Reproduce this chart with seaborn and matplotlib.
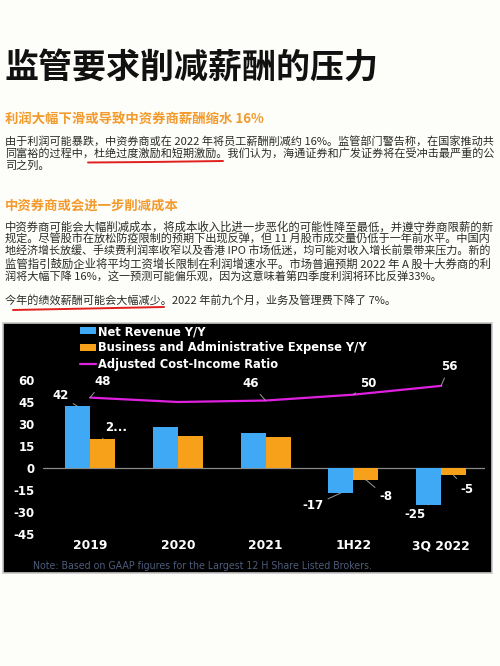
import numpy as np
import pandas as pd
import matplotlib
matplotlib.use('Agg')
import matplotlib.pyplot as plt
import seaborn as sns
from matplotlib.patches import Patch, Rectangle
from matplotlib.lines import Line2D

# ---------------- data ----------------
periods = ['2019', '2020', '2021', '1H22', '3Q 2022']
net_revenue = [42, 28, 24, -17, -25]
biz_admin_expense = [20, 22, 21, -8, -5]
cost_income_ratio = [48, 45, 46, 50, 56]
series_names = ['Net Revenue Y/Y', 'Business and Administrative Expense Y/Y',
                'Adjusted Cost-Income Ratio']
yticks = [-45, -30, -15, 0, 15, 30, 45, 60]
rev_labels = ['42', '', '', '-17', '-25']
exp_labels = ['2...', '', '', '-8', '-5']
ratio_labels = ['48', '', '46', '50', '56']

title = '监管要求削减薪酬的压力'
sub1 = '利润大幅下滑或导致中资券商薪酬缩水 16%'
p1 = ['由于利润可能暴跌，中资券商或在 2022 年将员工薪酬削减约 16%。监管部门警告称，在国家推动共',
      '同富裕的过程中，杜绝过度激励和短期激励。我们认为，海通证券和广发证券将在受冲击最严重的公',
      '司之列。']
sub2 = '中资券商或会进一步削减成本'
p2 = ['中资券商可能会大幅削减成本，将成本收入比进一步恶化的可能性降至最低，并遵守券商限薪的新',
      '规定。尽管股市在放松防疫限制的预期下出现反弹，但 11 月股市成交量仍低于一年前水平。中国内',
      '地经济增长放缓、手续费利润率收窄以及香港 IPO 市场低迷，均可能对收入增长前景带来压力。新的',
      '监管指引鼓励企业将平均工资增长限制在利润增速水平。市场普遍预期 2022 年 A 股十大券商的利',
      '润将大幅下降 16%，这一预测可能偏乐观，因为这意味着第四季度利润将环比反弹33%。']
p3 = '今年的绩效薪酬可能会大幅减少。2022 年前九个月，业务及管理费下降了 7%。'
note = 'Note: Based on GAAP figures for the Largest 12 H Share Listed Brokers.'

# ---------------- style ----------------
sns.set_style('white')
CJK = ['Noto Sans CJK SC', 'DejaVu Sans']
plt.rcParams['font.family'] = CJK

W, H = 500, 666
BG = '#FDFDF9'
BLUE = '#3FA9F5'
ORANGE = '#F7A11A'
MAGENTA = '#E020E0'
ORANGE_T = '#F39A2C'

def fx(x):
    return x / W

def fy(y):
    return 1 - y / H

fig = plt.figure(figsize=(W / 100, H / 100), dpi=100, facecolor=BG)
renderer = fig.canvas.get_renderer()

# ---------------- article text ----------------
fig.text(fx(4), fy(68), title, fontsize=24.5, fontweight='bold', color='#111111',
         ha='left', va='center', family=CJK)
fig.text(fx(5), fy(119), sub1, fontsize=9.6, fontweight='bold', color=ORANGE_T,
         ha='left', va='center', family=CJK)

body_kw = dict(fontsize=8, color='#2a2a2a', ha='left', va='center', family=CJK)

def body_line(y, s, fit=True, width=488.0):
    t = fig.text(fx(5), fy(y), s, **body_kw)
    if fit:
        w = t.get_window_extent(renderer).width
        t.set_fontsize(8 * width / w)
    return t

for i, line in enumerate(p1):
    body_line(141 + 12.5 * i, line, fit=(i < len(p1) - 1))
fig.text(fx(5), fy(206), sub2, fontsize=9.6, fontweight='bold', color=ORANGE_T,
         ha='left', va='center', family=CJK)
for i, line in enumerate(p2):
    body_line(227 + 12.3 * i, line, fit=(i < len(p2) - 1))
body_line(300, p3, fit=False)

# red hand-drawn underlines
fig.add_artist(Line2D([fx(88), fx(150), fx(223)], [fy(162.5), fy(162), fy(161)],
                      transform=fig.transFigure, color='#E0201E', lw=1.4))
fig.add_artist(Line2D([fx(13), fx(90), fx(164)], [fy(310), fy(308.5), fy(307)],
                      transform=fig.transFigure, color='#E0201E', lw=1.4))

# ---------------- chart box ----------------
fig.add_artist(Rectangle((fx(3), fy(573)), fx(492) - fx(3), fy(323) - fy(573),
                         transform=fig.transFigure, facecolor='black',
                         edgecolor='#c8c8c8', lw=1.2, zorder=-1))

ylo, yhi = -47, 65
px_per = 88 / 60.0
ax_top = 468 - yhi * px_per
ax_bot = 468 - ylo * px_per
ax = fig.add_axes([fx(43), fy(ax_bot), fx(485) - fx(43), fy(ax_top) - fy(ax_bot)])
ax.patch.set_alpha(0)

df = pd.DataFrame({
    'period': periods * 2,
    'value': net_revenue + biz_admin_expense,
    'series': [series_names[0]] * len(periods) + [series_names[1]] * len(periods),
})
sns.barplot(data=df, x='period', y='value', hue='series', order=periods,
            hue_order=series_names[:2], palette=[BLUE, ORANGE], width=0.57,
            saturation=1, gap=0, linewidth=0, legend=False, ax=ax, zorder=2)
xpos = np.arange(len(periods))
sns.lineplot(x=xpos, y=cost_income_ratio, color=MAGENTA, lw=1.6, ax=ax, zorder=3)

ax.axhline(0, color='#8a8a8a', lw=0.9, zorder=1)
ax.set_xlim(-0.536, 4.5)
ax.set_ylim(ylo, yhi)
ax.set_yticks(yticks)
ax.set_yticklabels([str(t) for t in yticks])
ax.set_xlabel('')
ax.set_ylabel('')
for s in ax.spines.values():
    s.set_visible(False)
ax.tick_params(axis='y', colors='#777777', length=2.5, width=0.8, pad=3.5,
               labelcolor='white', labelsize=8.5)
ax.tick_params(axis='x', length=0, pad=1.5, labelcolor='white', labelsize=8.8)
for lab in ax.get_yticklabels() + ax.get_xticklabels():
    lab.set_fontweight('bold')
    lab.set_family('DejaVu Sans')

# data labels with leader lines (offsets in pixels)
lbl_kw = dict(textcoords='offset pixels', ha='center', va='center', color='white',
              fontsize=8.5, fontweight='bold', family='DejaVu Sans',
              annotation_clip=False, zorder=5,
              arrowprops=dict(arrowstyle='-', color='#9a9a9a', lw=0.7,
                              shrinkA=1, shrinkB=0))
hw = 0.57 / 4
rev_off = [(-17, 11), None, None, (-28, -13), (-14, -10)]
exp_off = [(14, 11), None, None, (20, -17), (13, -14)]
rat_off = [(13, 16), None, (-15, 17), (15, 11), (8, 19)]
for i in range(len(periods)):
    if rev_labels[i]:
        ax.annotate(rev_labels[i], xy=(xpos[i] - hw, net_revenue[i]),
                    xytext=rev_off[i], **lbl_kw)
    if exp_labels[i]:
        ax.annotate(exp_labels[i], xy=(xpos[i] + hw, biz_admin_expense[i]),
                    xytext=exp_off[i], **lbl_kw)
    if ratio_labels[i]:
        ax.annotate(ratio_labels[i], xy=(xpos[i], cost_income_ratio[i]),
                    xytext=rat_off[i], **lbl_kw)

# legend
handles = [Patch(facecolor=BLUE, edgecolor='none'),
           Patch(facecolor=ORANGE, edgecolor='none'),
           Line2D([], [], color=MAGENTA, lw=1.6)]
leg = fig.legend(handles, series_names, loc='upper left',
                 bbox_to_anchor=(fx(80), fy(325)), bbox_transform=fig.transFigure,
                 frameon=False, borderpad=0, borderaxespad=0, handlelength=1.4,
                 handleheight=0.55, handletextpad=0.2, labelspacing=0.3,
                 prop={'family': 'DejaVu Sans', 'weight': 'bold', 'size': 8.3})
for t in leg.get_texts():
    t.set_color('white')

fig.text(fx(33), fy(566), note, fontsize=6.85, color='#4e5b7a', ha='left',
         va='center', family='DejaVu Sans')

fig.savefig('out.png', dpi=100, facecolor=BG)
